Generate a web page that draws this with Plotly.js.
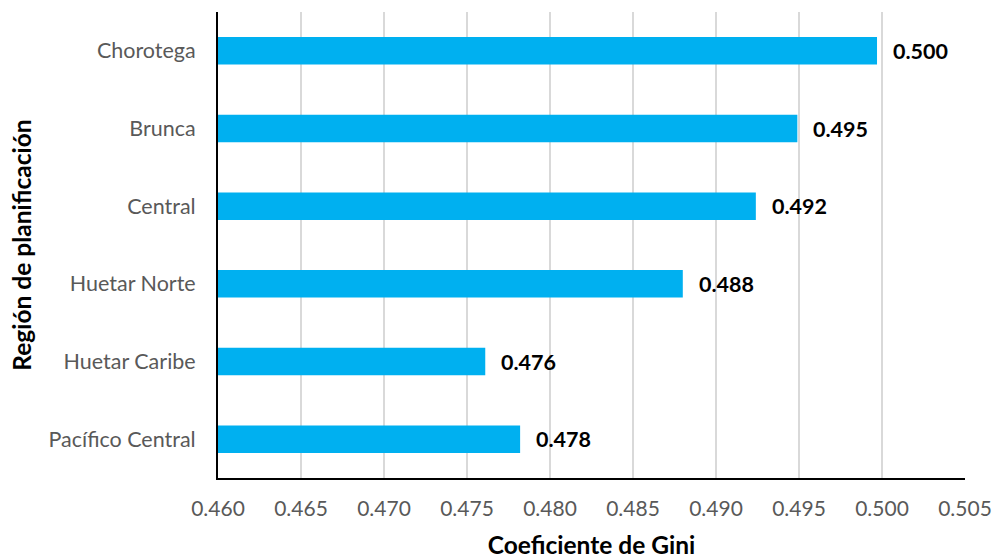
<!DOCTYPE html>
<html>
<head>
<meta charset="utf-8">
<script src="https://cdn.plot.ly/plotly-3.0.1.min.js"></script>
<style>html,body{margin:0;padding:0;background:#fff}#chart{width:996px;height:559px}</style>
</head>
<body>
<div id="chart"></div>
<script>
const regions = ["Chorotega", "Brunca", "Central", "Huetar Norte", "Huetar Caribe", "Pacífico Central"];
const gini = [0.4997, 0.4949, 0.4924, 0.4880, 0.4761, 0.4782];
const giniLabels = ["0.500", "0.495", "0.492", "0.488", "0.476", "0.478"];
const xTicks = [0.460, 0.465, 0.470, 0.475, 0.480, 0.485, 0.490, 0.495, 0.500, 0.505];

const FONT = "Lato, 'Open Sans', sans-serif";

const trace = {
  type: "bar",
  orientation: "h",
  x: gini,
  y: regions,
  width: 0.355,
  marker: {color: "#00B0F0"},
  hoverinfo: "skip"
};

const annotations = regions.map((r, i) => ({
  x: gini[i], y: r, xref: "x", yref: "y",
  text: giniLabels[i], showarrow: false,
  xanchor: "left", yanchor: "middle", xshift: 14,
  font: {family: FONT, size: 21.5, color: "#000000", weight: "bold"}
}));

const layout = {
  width: 996, height: 559,
  margin: {l: 218, r: 31, t: 12, b: 81},
  paper_bgcolor: "#ffffff", plot_bgcolor: "#ffffff",
  showlegend: false,
  bargap: 0.6,
  xaxis: {
    range: [0.460, 0.505],
    tickvals: xTicks,
    ticktext: xTicks.map(v => v.toFixed(3)),
    showgrid: true, gridcolor: "#d9d9d9", gridwidth: 1.5,
    zeroline: false,
    showline: true, linecolor: "#000000", linewidth: 2,
    ticks: "outside", ticklen: 11, tickcolor: "rgba(0,0,0,0)",
    tickfont: {family: FONT, size: 21, color: "#595959"},
    title: {text: "Coeficiente de Gini", standoff: 19,
            font: {family: FONT, size: 24.5, color: "#000000", weight: "bold"}},
    fixedrange: true
  },
  yaxis: {
    autorange: "reversed",
    showgrid: false, zeroline: false,
    showline: true, linecolor: "#000000", linewidth: 2,
    ticks: "outside", ticklen: 16, tickcolor: "rgba(0,0,0,0)",
    tickfont: {family: FONT, size: 21.5, color: "#595959"},
    title: {text: "Región de planificación", standoff: 10,
            font: {family: FONT, size: 24.5, color: "#000000", weight: "bold"}},
    fixedrange: true
  },
  annotations: annotations
};

Plotly.newPlot("chart", [trace], layout, {displayModeBar: false, staticPlot: true});
</script>
</body>
</html>
